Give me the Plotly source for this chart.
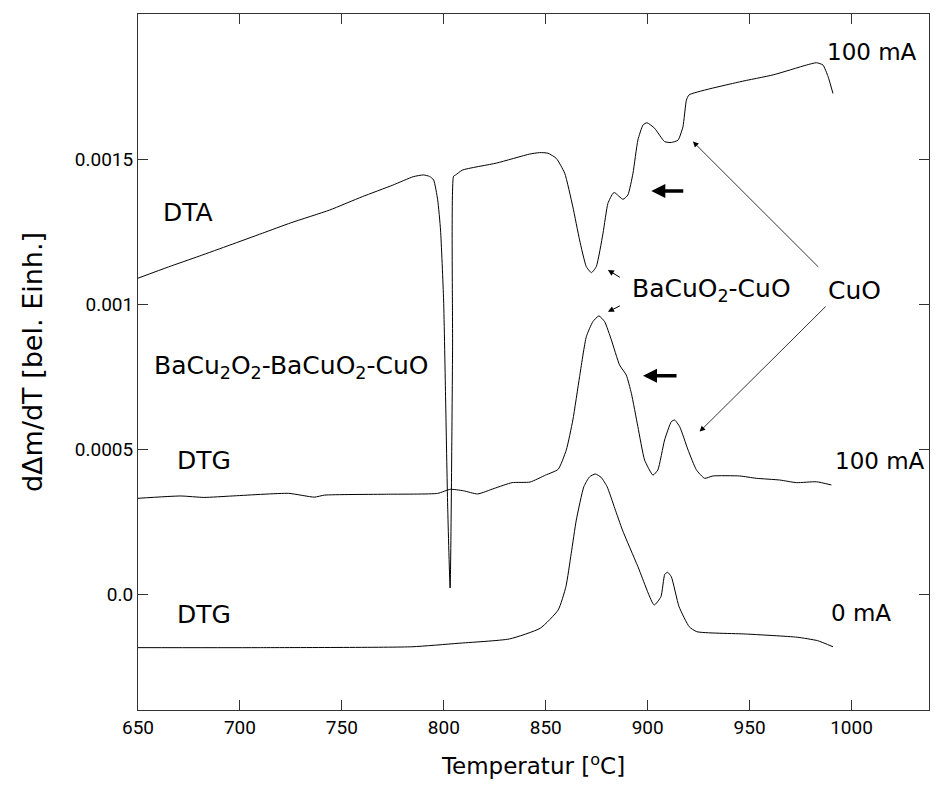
import plotly.graph_objects as go

# DTA trace (100 mA)
dta_temp = [650.0, 665, 680, 695, 711, 725, 744, 760, 775, 785, 790, 793, 795,
            797.0, 798.4, 799.9, 800.9, 801.9, 803.1, 804.3, 804.8, 805.8,
            809.2, 825.9, 842.1, 847.0, 851.1, 855.2, 859.3, 863.3, 866.6,
            869.9, 872.4, 874.8, 878.1, 880.5, 883.0, 883.8, 887.9, 890.3,
            892.8, 895.2, 897.7, 899.7, 903.4, 908.3, 911.6, 914.9, 917.3,
            919.0, 920.3, 945.1, 961.5, 977.9, 982.8, 986.0, 988.5, 990.9]
dta_signal = [0.001089, 0.001128, 0.001165, 0.001203, 0.001244, 0.001280, 0.001324,
              0.001370, 0.001410, 0.001439, 0.001445, 0.001440, 0.001428,
              0.001359, 0.001255, 0.001014, 0.000669, 0.000303, 0.0000207,
              0.000841, 0.001441, 0.001445,
              0.001462, 0.001486, 0.001517, 0.001522, 0.001520, 0.001502,
              0.001451, 0.001335, 0.001221, 0.001129, 0.001108, 0.001129,
              0.001244, 0.001347, 0.001382, 0.001384, 0.001361, 0.001376,
              0.001451, 0.001565, 0.001617, 0.001625, 0.001606, 0.001560,
              0.001557, 0.001565, 0.001611, 0.001703, 0.001721, 0.001766,
              0.001790, 0.001824, 0.001832, 0.001824, 0.001784, 0.001726]

# DTG trace, 100 mA
dtg100_temp = [650.0, 671.0, 682.3, 696.2, 723.9, 736.5, 741.5, 771.8, 797.0,
               803.2, 809.6, 816.6, 824.7, 833.5, 842.3, 849.9, 856.1, 860.1,
               863.3, 866.6, 869.9, 873.1, 876.1, 878.9, 882.2, 886.2, 889.5,
               892.0, 895.2, 898.5, 902.6, 905.0, 908.3, 911.6, 913.2, 915.7,
               919.8, 923.9, 927.9, 932.0, 945.1, 953.3, 964.8, 973.0, 982.8,
               990.1]
dtg100_signal = [0.000330, 0.000338, 0.000333, 0.000338, 0.000347, 0.000334,
                 0.000341, 0.000344, 0.000347, 0.000361, 0.000356, 0.000345,
                 0.000364, 0.000384, 0.000386, 0.000410, 0.000430, 0.000497,
                 0.000600, 0.000749, 0.000887, 0.000939, 0.000959, 0.000939,
                 0.000876, 0.000790, 0.000755, 0.000692, 0.000577, 0.000462,
                 0.000410, 0.000428, 0.000531, 0.000594, 0.000600, 0.000577,
                 0.000497, 0.000428, 0.000399, 0.000407, 0.000407, 0.000399,
                 0.000393, 0.000384, 0.000387, 0.000376]

# DTG trace, 0 mA
dtg0_temp = [650.0, 708.8, 784.3, 807.0, 832.2, 847.3, 856.1, 859.9, 862.5,
             865.0, 868.7, 871.5, 874.3, 877.2, 880.1, 883.9, 887.6, 895.2,
             903.2, 906.5, 908.4, 909.8, 911.6, 915.4, 920.4, 924.1, 948.1,
             973.3, 983.4, 990.9]
dtg0_signal = [-0.000185, -0.000185, -0.000182, -0.000170, -0.000155, -0.000118,
               -0.0000552, 0.0000252, 0.000140, 0.000255, 0.000370, 0.000404,
               0.000414, 0.000402, 0.000370, 0.000295, 0.000221, 0.0000948,
               -0.0000379, -0.0000093, 0.0000680, 0.0000748, 0.0000597,
               -0.0000438, -0.000113, -0.000130, -0.000138, -0.000149,
               -0.000161, -0.000182]

x_ticks = [650, 700, 750, 800, 850, 900, 950, 1000]
y_ticks = [0.0, 0.0005, 0.001, 0.0015]
y_tick_text = ["0.0", "0.0005", "0.001", "0.0015"]

LABEL_FONT = "DejaVu Sans"
TICK_FONT = "Roboto"
line_style = dict(color="black", width=1.0, shape="spline", smoothing=0.5)

fig = go.Figure()
for xs, ys in [(dta_temp, dta_signal), (dtg100_temp, dtg100_signal), (dtg0_temp, dtg0_signal)]:
    fig.add_trace(go.Scatter(x=xs, y=ys, mode="lines", line=line_style,
                             hoverinfo="skip", showlegend=False))

# (text, x, y, anchor, size)
labels = [
    ("100 mA", 1009.9, 0.001869, "center", 23),
    ("DTA", 674.5, 0.001317, "center", 25),
    ("BaCu<sub>2</sub>O<sub>2</sub>-BaCuO<sub>2</sub>-CuO", 657.1, 0.000783, "left", 25),
    ("DTG", 682.4, 0.000459, "center", 25),
    ("DTG", 682.4, -0.000069, "center", 25),
    ("100 mA", 1013.8, 0.000459, "center", 23),
    ("0 mA", 1004.5, -0.0000655, "center", 23),
    ("BaCuO<sub>2</sub>-CuO", 891.2, 0.001048, "left", 25),
    ("CuO", 1001.6, 0.001048, "center", 25),
]
for text, x, y, anchor, size in labels:
    fig.add_annotation(x=x, y=y, text=text, showarrow=False, xanchor=anchor,
                       yanchor="middle", font=dict(family=LABEL_FONT, size=size, color="black"))

# pointer arrows: (head x, head y, tail x, tail y, width, size)
arrows = [
    (880.5, 0.001117, 887.1, 0.001089, 1.0, 1.2),
    (880.5, 0.000973, 887.1, 0.000996, 1.0, 1.2),
    (922.2, 0.001560, 984.4, 0.001123, 0.8, 1.4),
    (925.5, 0.000560, 988.0, 0.000996, 0.8, 1.4),
    (901.8, 0.001390, 918.2, 0.001390, 3.5, 0.8),
    (897.7, 0.000753, 914.9, 0.000753, 3.5, 0.8),
]
for hx, hy, tx, ty, w, s in arrows:
    fig.add_annotation(x=hx, y=hy, ax=tx, ay=ty, xref="x", yref="y", axref="x", ayref="y",
                       text="", showarrow=True, arrowhead=2, arrowsize=s, arrowwidth=w,
                       arrowcolor="black")

axis_common = dict(showline=True, linecolor="#333333", linewidth=1, mirror="ticks",
                   ticks="inside", ticklen=10, tickcolor="#333333", showgrid=False,
                   zeroline=False, tickfont=dict(family=TICK_FONT, size=19, color="black"))

fig.update_layout(
    width=935, height=785,
    margin=dict(l=138, r=6, t=14, b=75),
    plot_bgcolor="white", paper_bgcolor="white",
    xaxis=dict(range=[650, 1038], tickvals=x_ticks,
               title=dict(text="Temperatur [<sup>o</sup>C]",
                          font=dict(family=LABEL_FONT, size=23, color="black"),
                          standoff=20),
               **axis_common),
    yaxis=dict(range=[-0.0004, 0.002], tickvals=y_ticks, ticktext=y_tick_text,
               title=dict(text="dΔm/dT [bel. Einh.]",
                          font=dict(family=LABEL_FONT, size=27, color="black"),
                          standoff=24),
               **axis_common),
)

fig.write_html("out.html")
